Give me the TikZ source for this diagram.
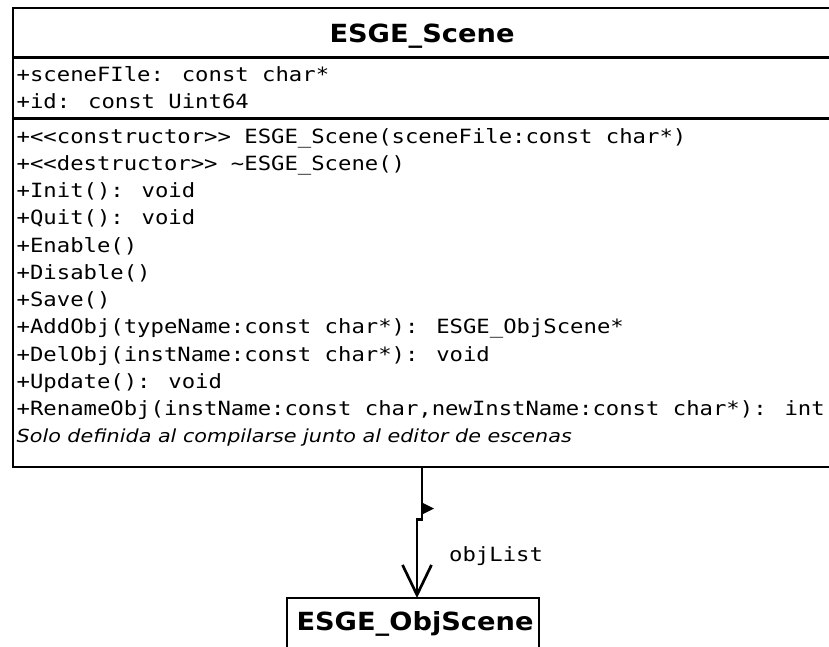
\documentclass[tikz,border=0pt]{standalone}
\usepackage{fontspec}
\usetikzlibrary{arrows.meta}
\newfontfamily\umlmono[FakeStretch=1.135]{DejaVu Sans Mono}
\newfontfamily\umlsans[FakeStretch=1.09]{DejaVu Sans}
\newfontfamily\umlnote[FakeStretch=1.15]{DejaVu Sans}
\tikzset{
  classbox/.style={draw, line width=2.8pt, rectangle, inner sep=0pt, outer sep=0pt},
  classname/.style={font=\umlsans\bfseries\fontsize{25}{30}\selectfont, inner sep=0pt, anchor=base},
  member/.style={font=\umlmono\fontsize{19.6}{23}\selectfont, inner sep=0pt, anchor=base west},
  comment/.style={font=\umlnote\itshape\fontsize{18}{22}\selectfont, inner sep=0pt, anchor=base west},
  divider/.style={line width=2.8pt},
  assoc/.style={line width=2.7pt, -{Straight Barb[length=30pt, width=29pt]}},
}
\begin{document}
\begin{tikzpicture}[x=1pt, y=-1pt]
  \useasboundingbox (0,0) rectangle (829,646);
  \fill[white] (0,0) rectangle (829,646);

  % class ESGE_Scene
  \node[classbox, minimum width=818pt, minimum height=459pt, anchor=north west] (scene) at (13,8) {};
  \draw[divider] (scene.west |- 0,57.3) -- (scene.east |- 0,57.3);
  \draw[divider] (scene.west |- 0,118.5) -- (scene.east |- 0,118.5);
  \node[classname] (title) at (422,42.5) {ESGE\_Scene};

  % attributes
  \node[member] (a1) at (16.5,81) {+sceneFIle: const char*};
  \node[member] (a2) at (16.5,108) {+id: const Uint64};

  % operations
  \node[member] (m1)  at (16.5,143)    {+<<constructor>> ESGE\_Scene(sceneFile:const char*)};
  \node[member] (m2)  at (16.5,170.25) {+<<destructor>> \textasciitilde ESGE\_Scene()};
  \node[member] (m3)  at (16.5,197.5)  {+Init(): void};
  \node[member] (m4)  at (16.5,224.75) {+Quit(): void};
  \node[member] (m5)  at (16.5,252)    {+Enable()};
  \node[member] (m6)  at (16.5,279.25) {+Disable()};
  \node[member] (m7)  at (16.5,306.5)  {+Save()};
  \node[member] (m8)  at (16.5,333.75) {+AddObj(typeName:const char*): ESGE\_ObjScene*};
  \node[member] (m9)  at (16.5,361)    {+DelObj(instName:const char*): void};
  \node[member] (m10) at (16.5,388.25) {+Update(): void};
  \node[member] (m11) at (16.5,415.5)  {+RenameObj(instName:const char,newInstName:const char*): int};
  \node[comment] (note) at (16.5,442.5) {Solo definida al compilarse junto al editor de escenas};

  % class ESGE_ObjScene
  \node[classbox, classname, anchor=north, minimum width=252pt,
        text height=20pt, text depth=25pt, inner ysep=12pt] (obj) at (413,598)
        {\hspace*{4pt}ESGE\_ObjScene};

  % association objList
  \coordinate (src) at (422,467);
  \coordinate (bend) at (422,519.5);
  \draw[assoc, line join=miter] (src) -- (bend) -- ++(-5,0) -- (obj.north -| 417,0);
  \fill (423,503) -- (434,508.5) -- (423,514) -- cycle;
  \node[member] (lbl) at (449,561) {objList};
\end{tikzpicture}
\end{document}
